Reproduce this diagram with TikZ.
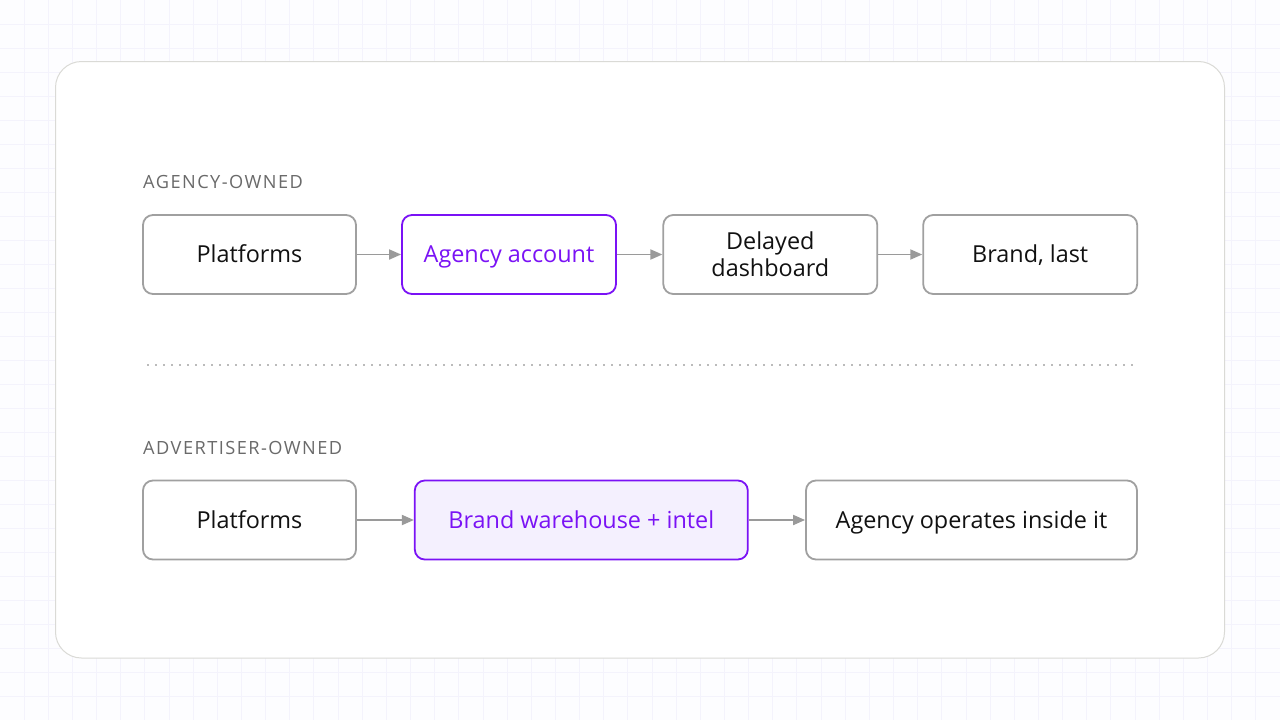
\documentclass[tikz,border=0pt]{standalone}
\usepackage{fontspec}
\setmainfont{Open Sans}
\usetikzlibrary{arrows.meta}
\definecolor{bgc}{HTML}{FDFDFF}
\definecolor{gridc}{HTML}{F4F3FC}
\definecolor{cardline}{HTML}{DADAD6}
\definecolor{boxline}{HTML}{A0A0A0}
\definecolor{purp}{HTML}{7A12F5}
\definecolor{purpfill}{HTML}{F4F0FE}
\definecolor{labelc}{HTML}{6A6A6A}
\definecolor{arrowc}{HTML}{9A9A9A}
\definecolor{dotc}{HTML}{BBBBBB}
\definecolor{textc}{HTML}{111111}
\tikzset{
  stagebox/.style={draw=boxline, line width=1.8pt, rounded corners=10pt, fill=white,
    inner sep=0pt, text=textc, align=center,
    font=\fontsize{23.4}{26.7}\selectfont},
  oneline/.style={text height=16.8pt, text depth=0pt},
  keybox/.style={stagebox, draw=purp, text=purp},
  keyfill/.style={keybox, fill=purpfill},
  flow/.style={draw=arrowc, line width=1.8pt, -{Triangle[length=12pt,width=10pt]}},
  sectionlabel/.style={anchor=west, inner sep=0pt, text=labelc, text height=13pt, text depth=0pt,
    font=\fontsize{18.2}{20}\selectfont\addfontfeatures{LetterSpace=8}},
}
\begin{document}
\begin{tikzpicture}[x=1pt,y=-1pt]
\useasboundingbox (0,0) rectangle (1280,720);
\fill[bgc] (0,0) rectangle (1280,720);
% grid
\foreach \i in {1,...,52} {\draw[gridc, line width=1pt] ({\i*24.151},0) -- ({\i*24.151},720);}
\foreach \j in {1,...,29} {\draw[gridc, line width=1pt] (0,{\j*24}) -- (1280,{\j*24});}
% card
\draw[cardline, line width=1pt, fill=white, rounded corners=26pt] (55.5,61.5) rectangle (1224.5,658);
% labels
\node[sectionlabel] (lab1) at (143,181.7) {AGENCY-OWNED};
\node[sectionlabel] (lab2) at (143,447.5) {ADVERTISER-OWNED};
% top row
\node[stagebox, oneline, minimum width=213pt, minimum height=79pt] (a1) at (249.5,254.5) {Platforms};
\node[keybox, oneline, minimum width=214pt, minimum height=79pt] (a2) at (509,254.5) {Agency account};
\node[stagebox, minimum width=214pt, minimum height=79pt] (a3) at (770.3,254.5) {Delayed\\dashboard};
\node[stagebox, oneline, minimum width=214pt, minimum height=79pt] (a4) at (1030.2,254.5) {Brand, last};
\draw[flow] (a1) -- (a2);
\draw[flow] (a2) -- (a3);
\draw[flow] (a3) -- (a4);
% divider
\coordinate (d1) at (147,365.3);
\coordinate (d2) at (1136,365.3);
\draw[dotc, line width=2pt, dash pattern=on 2pt off 6pt] (d1) -- (d2);
% bottom row
\node[stagebox, oneline, minimum width=213pt, minimum height=79pt] (b1) at (249.5,520) {Platforms};
\node[keyfill, oneline, minimum width=333pt, minimum height=79pt] (b2) at (581.3,520) {Brand warehouse + intel};
\node[stagebox, oneline, minimum width=331pt, minimum height=79pt] (b3) at (971.5,520) {Agency operates inside it};
\draw[flow] (b1) -- (b2);
\draw[flow] (b2) -- (b3);
\end{tikzpicture}
\end{document}
